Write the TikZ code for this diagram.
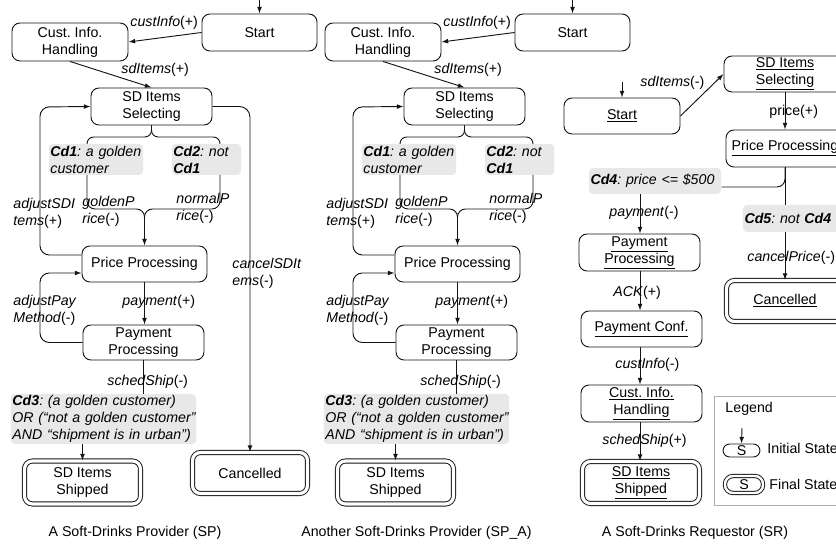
\documentclass[tikz,border=0pt]{standalone}
\usepackage{fontspec}
\setmainfont{Liberation Sans}
\usetikzlibrary{arrows.meta,calc}
\definecolor{cdgray}{RGB}{232,232,232}
\definecolor{leggray}{RGB}{175,175,175}
\definecolor{ln}{RGB}{20,20,20}
\newcommand\dfont{\fontsize{10.65pt}{12.75pt}\selectfont\frenchspacing}
\tikzset{
  st/.style={draw=ln, rounded corners=6pt, align=center, inner sep=0pt},
  sz/.style 2 args={minimum width=#1*0.75pt, minimum height=#2*0.75pt},
  fin/.style={st, double, double distance=2.4pt},
  cd/.style={fill=cdgray, rounded corners=3pt, inner xsep=1.2pt, inner ysep=0pt, align=left, font=\dfont\itshape},
  lab/.style={inner sep=0pt, anchor=west, align=left},
  conn/.style={draw=ln},
}
\newcommand\spcolumn[1]{%
  \coordinate (in#1) at (259.5,0);
  \node[st,sz={115}{37}] (start#1) at (259.5,32.5) {Start};
  \node[st,sz={116}{38}] (cust#1) at (70,42) {Cust. Info.\\Handling};
  \node[st,sz={121}{37}] (sel#1) at (151.5,106.5) {SD Items\\Selecting};
  \node[cd,text width=68.4pt,minimum height=31*0.75pt] (cdA#1) at (96,159.5) {\mbox{\textbf{Cd1}: a golden}\\\mbox{customer}};
  \node[cd,text width=49.7pt,minimum height=31*0.75pt] (cdB#1) at (206.5,159.5) {\mbox{\textbf{Cd2}: not}\\\mbox{\textbf{Cd1}}};
  \node[st,sz={125}{36}] (pp#1) at (144.5,264) {Price Processing};
  \node[st,sz={121}{35}] (pay#1) at (143.5,342.5) {Payment\\Processing};
  \node[cd,text width=136.6pt,minimum height=50*0.75pt] (cdC#1) at (103.5,419) {\mbox{\textbf{Cd3}: (a golden customer)}\\\mbox{OR (“not a golden customer”}\\\mbox{AND “shipment is in urban”)}};
  \node[fin,sz={116}{43}] (ship#1) at (82.5,482.5) {SD Items\\Shipped};
  %
  \draw[conn,->] (in#1) -- (start#1.north);
  \draw[conn,->] (start#1.west) -- (cust#1.east);
  \draw[conn,->] (cust#1.south) -- (sel#1.north);
  \draw[conn,rounded corners=5pt] (sel#1.south) |- (87,137) -- (87,144);
  \draw[conn,rounded corners=5pt] (sel#1.south) |- (220,137) -- (220,144);
  \draw[conn,->,rounded corners=6pt] (87,175) |- (144.5,209) -- (pp#1.north);
  \draw[conn,rounded corners=6pt] (220,175) |- (144.5,209) -- (144.5,224);
  \draw[conn,->,rounded corners=7pt] ($(pp#1.west)+(0,-9)$) -| (40,107) -- (sel#1.west);
  \draw[conn,->] (pp#1.south) -- (pp#1.south |- pay#1.north);
  \draw[conn,->,rounded corners=7pt] (pay#1.west) -| (40,273) -- ($(pp#1.west)+(0,9)$);
  \draw[conn] (pay#1.south) -- (pay#1.south |- cdC#1.north);
  \draw[conn,->] (cdC#1.south -| ship#1.north) -- (ship#1.north);
  %
  \node[lab] (lcust#1) at (130,23) {\textit{custInfo}(+)};
  \node[lab] (lsd#1) at (121,70) {\textit{sdItems}(+)};
  \node[lab] (lgold#1) at (82,211.5) {\textit{goldenP}\\\textit{rice}(-)};
  \node[lab] (lnorm#1) at (176,208) {\textit{normalP}\\\textit{rice}(-)};
  \node[lab] (ladj#1) at (13,213) {\textit{adjustSDI}\\\textit{tems}(+)};
  \node[lab] (lpay#1) at (122,302) {\textit{payment}(+)};
  \node[lab] (ladp#1) at (13,310) {\textit{adjustPay}\\\textit{Method}(-)};
  \node[lab] (lship#1) at (107,382) {\textit{schedShip}(-)};
}
\begin{document}
\begin{tikzpicture}[x=0.75pt,y=-0.75pt,line width=0.7pt,font=\dfont,
  >={Latex[length=5pt,width=3.6pt]}]
\useasboundingbox (0,0) rectangle (836,548);
\clip (0,0) rectangle (836,548);
% ---------- column 1: SP
\spcolumn{a}
\node[fin,sz={115}{41}] (canca) at (250,473) {Cancelled};
\draw[conn,->,rounded corners=8pt] (sela.east) -| (canca.north);
\node[lab] (lcanca) at (232,273.5) {\textit{cancelSDIt}\\\textit{ems}(-)};
\node (capa) at (135,533) {A Soft-Drinks Provider (SP)};
% ---------- column 2: SP_A
\begin{scope}[xshift=313*0.75pt]
\spcolumn{b}
\end{scope}
\node (capb) at (416.5,533) {Another Soft-Drinks Provider (SP\_A)};
% ---------- column 3: SR
\coordinate (inc) at (622,82);
\node[st,sz={116}{36}] (startc) at (622,116) {\underline{Start}};
\node[st,sz={122}{36}] (selc) at (785,74) {\underline{SD Items}\\\underline{Selecting}};
\node[st,sz={118}{37}] (ppc) at (785,148.5) {\underline{Price Processing}};
\node[cd,text width=96.7pt,minimum height=26*0.75pt] (cdD) at (655,181) {\mbox{\textbf{Cd4}: price <= \$500}};
\node[cd,text width=70.5pt,minimum height=27*0.75pt] (cdE) at (791.5,218.5) {\mbox{\textbf{Cd5}: not \textbf{Cd4}}};
\node[fin,sz={117}{41}] (cancc) at (785,301) {\underline{Cancelled}};
\node[st,sz={121}{37}] (payc) at (639.5,252.5) {\underline{Payment}\\\underline{Processing}};
\node[st,sz={121}{36}] (confc) at (641.5,329) {\underline{Payment Conf.}};
\node[st,sz={121}{37}] (custc) at (641.5,403.5) {\underline{Cust. Info.}\\\underline{Handling}};
\node[fin,sz={117}{42}] (shipc) at (641,482.5) {\underline{SD Items}\\\underline{Shipped}};
%
\draw[conn,->] (inc) -- (startc.north);
\draw[conn,->] (startc.east) -- (selc.west);
\draw[conn,->] (selc.south) -- (ppc.north);
\draw[conn,rounded corners=6pt] (ppc.south) |- (cdD.east |- 0,187);
\draw[conn] (ppc.south) -- (ppc.south |- cdE.north);
\draw[conn,->] (ppc.south |- cdE.south) -- (cancc.north);
\draw[conn,->] (cdD.south -| 640,0) -- (payc.north -| 640,0);
\draw[conn,->] (payc.south -| 640,0) -- (confc.north -| 640,0);
\draw[conn,->] (confc.south -| 640,0) -- (custc.north -| 640,0);
\draw[conn,->] (custc.south -| 640,0) -- (shipc.north -| 640,0);
%
\node[lab] (lsdc) at (640,83) {\textit{sdItems}(-)};
\node[lab] (lprc) at (769,112) {price(+)};
\node[lab] (lpayc) at (609,213) {\textit{payment}(-)};
\node[lab] (lcanc) at (747,258) {\textit{cancelPrice}(-)};
\node[lab] (lack) at (613,293) {\textit{ACK}(+)};
\node[lab] (lcic) at (615,365) {\textit{custInfo}(-)};
\node[lab] (lshc) at (602,441) {\textit{schedShip}(+)};
\node (capc) at (695,533) {A Soft-Drinks Requestor (SR)};
% ---------- legend
\node[draw=leggray,sz={134}{109},inner sep=0pt] (leg) at (781,450.5) {};
\node[lab] (legt) at (725,409) {Legend};
\coordinate (inleg) at (742,428);
\node[st,rounded corners=5pt,sz={37}{13}] (ini) at (741.5,450.5) {S};
\draw[conn,->] (inleg) -- (ini.north);
\node[lab] (lini) at (767,448) {Initial State};
\node[fin,rounded corners=6pt,double distance=1.8pt,sz={38}{17}] (fnl) at (744,484.5) {S};
\node[lab] (lfnl) at (769,484) {Final State};
\end{tikzpicture}
\end{document}
